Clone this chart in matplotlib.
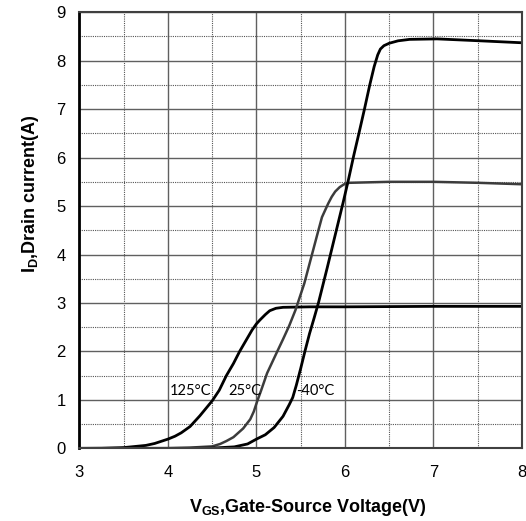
import matplotlib
matplotlib.use("Agg")
import matplotlib.pyplot as plt
from matplotlib.ticker import MultipleLocator

# (VGS in V, ID in A)
vgs_125 = [3.0, 3.25, 3.5, 3.75, 3.85, 4.0, 4.08, 4.15, 4.25, 4.36, 4.5, 4.58, 4.66,
           4.74, 4.81, 4.88, 4.95, 5.0, 5.04, 5.1, 5.15, 5.22, 5.3, 5.6, 6.0, 7.0, 8.0]
id_125 = [0.0, 0.003, 0.015, 0.06, 0.1, 0.19, 0.25, 0.32, 0.45, 0.67, 0.98, 1.2, 1.5,
          1.75, 2.0, 2.22, 2.44, 2.57, 2.65, 2.76, 2.84, 2.89, 2.91, 2.92, 2.92, 2.93, 2.93]

vgs_25 = [3.5, 4.0, 4.25, 4.5, 4.59, 4.66, 4.74, 4.85, 4.93, 4.97, 5.01, 5.05, 5.12,
          5.23, 5.3, 5.37, 5.44, 5.54, 5.62, 5.7, 5.74, 5.81, 5.85, 5.89, 5.94, 5.99,
          6.05, 6.5, 7.0, 7.5, 8.0]
id_25 = [0.0, 0.003, 0.015, 0.04, 0.09, 0.15, 0.23, 0.41, 0.6, 0.76, 0.98, 1.18, 1.55,
         1.98, 2.25, 2.53, 2.85, 3.4, 3.95, 4.5, 4.77, 5.05, 5.19, 5.3, 5.39, 5.45,
         5.48, 5.5, 5.5, 5.48, 5.45]

vgs_m40 = [3.5, 4.25, 4.5, 4.75, 4.9, 5.0, 5.1, 5.2, 5.3, 5.37, 5.41, 5.45, 5.5, 5.55,
           5.6, 5.65, 5.7, 5.8, 5.9, 5.98, 6.04, 6.1, 6.16, 6.22, 6.28, 6.33, 6.37,
           6.4, 6.44, 6.5, 6.6, 6.73, 7.04, 7.53, 8.0]
id_m40 = [0.0, 0.0, 0.005, 0.03, 0.09, 0.19, 0.28, 0.43, 0.66, 0.9, 1.05, 1.3, 1.65, 2.02,
          2.37, 2.68, 3.0, 3.73, 4.48, 5.08, 5.55, 6.05, 6.52, 7.0, 7.5, 7.88, 8.12,
          8.24, 8.31, 8.36, 8.41, 8.44, 8.45, 8.41, 8.37]

labels = ["125°C", "25°C", "-40°C"]
label_x = [4.02, 4.68, 5.45]
label_y = [1.18, 1.18, 1.19]

fig = plt.figure(figsize=(5.26, 5.21), dpi=100)
ax = fig.add_axes([0.151, 0.1395, 0.8414, 0.837])

ax.plot(vgs_125, id_125, color="black", lw=2.0)
ax.plot(vgs_25, id_25, color="#3c3c3c", lw=1.8)
ax.plot(vgs_m40, id_m40, color="black", lw=2.0)

for t, x, y in zip(labels, label_x, label_y):
    ax.text(x, y, t, fontsize=10.5, family="Lato", va="center", ha="left")

ax.set_xlim(3, 8)
ax.set_ylim(0, 9)
ax.xaxis.set_major_locator(MultipleLocator(1))
ax.yaxis.set_major_locator(MultipleLocator(1))
ax.xaxis.set_minor_locator(MultipleLocator(0.5))
ax.yaxis.set_minor_locator(MultipleLocator(0.5))
ax.grid(True, which="major", color="#606060", lw=1.0, ls="-")
ax.grid(True, which="minor", color="#555555", lw=0.8, ls=(0, (1, 1)))
ax.set_axisbelow(True)
ax.tick_params(which="both", length=0, labelsize=12)
ax.tick_params(axis="x", pad=12)
ax.tick_params(axis="y", pad=10)
for lab in ax.get_xticklabels() + ax.get_yticklabels():
    lab.set_family("Liberation Sans")

for side in ["top", "right", "bottom"]:
    ax.spines[side].set_color("#404040")
    ax.spines[side].set_linewidth(1.5)
ax.spines["left"].set_color("black")
ax.spines["left"].set_linewidth(2)

fig.text(308 / 526, 1 - 507 / 521, r"V$_{\mathregular{GS}}$,Gate-Source Voltage(V)",
         ha="center", va="center", fontsize=13, fontweight="bold", family="Liberation Sans")
fig.text(31 / 526, 1 - 194 / 521, r"I$_{\mathregular{D}}$,Drain current(A)",
         ha="center", va="center", rotation=90, fontsize=13, fontweight="bold",
         family="Liberation Sans")

fig.savefig("out.png", dpi=100)
plt.close(fig)
